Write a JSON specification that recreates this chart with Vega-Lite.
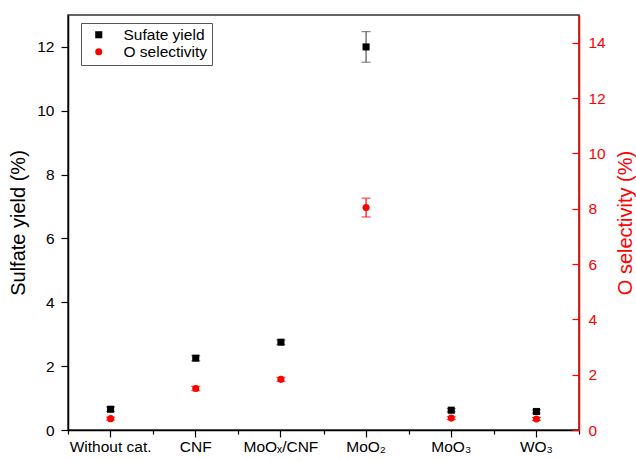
{
  "$schema": "https://vega.github.io/schema/vega-lite/v6.json",
  "width": 511,
  "height": 415,
  "autosize": {"type": "none"},
  "padding": {"left": 68, "top": 15, "right": 57, "bottom": 31},
  "background": "white",
  "config": {
    "font": "Liberation Sans",
    "view": {"stroke": "#333333", "strokeWidth": 1.5},
    "axis": {"grid": false, "domainWidth": 1.5, "tickWidth": 1.2, "labelFont": "Liberation Sans", "titleFont": "Liberation Sans", "titleFontWeight": "normal", "labelFontSize": 15.5, "titleFontSize": 20}
  },
  "data": {
    "values": [
      {"catalyst": "Without cat.", "sulfate": 0.65, "sulfate_err": 0.07, "osel": 0.41, "osel_err": 0.05},
      {"catalyst": "CNF", "sulfate": 2.25, "sulfate_err": 0.08, "osel": 1.5, "osel_err": 0.08},
      {"catalyst": "MoOₓ/CNF", "sulfate": 2.75, "sulfate_err": 0.07, "osel": 1.83, "osel_err": 0.07},
      {"catalyst": "MoO₂", "sulfate": 12.0, "sulfate_err": 0.48, "osel": 8.04, "osel_err": 0.34},
      {"catalyst": "MoO₃", "sulfate": 0.62, "sulfate_err": 0.05, "osel": 0.43, "osel_err": 0.05},
      {"catalyst": "WO₃", "sulfate": 0.58, "sulfate_err": 0.05, "osel": 0.4, "osel_err": 0.05}
    ]
  },
  "layer": [
    {
      "encoding": {
        "x": {
          "field": "catalyst", "type": "nominal", "sort": null,
          "scale": {"type": "band", "paddingInner": 0, "paddingOuter": 0},
          "axis": {"title": null, "labelAngle": 0, "tickSize": 7, "labelPadding": 2, "labelFontSize": 15.5, "domainColor": "#000000", "tickColor": "#000000", "labelColor": "#000000", "orient": "bottom"}
        }
      },
      "layer": [
        {
          "mark": {"type": "errorbar", "ticks": {"size": 9}, "color": "#555555", "thickness": 1.2},
          "encoding": {
            "y": {"field": "sulfate", "type": "quantitative", "title": "Sulfate yield (%)", "scale": {"domain": [0, 13], "nice": false, "zero": false}},
            "yError": {"field": "sulfate_err"}
          }
        },
        {
          "mark": {"type": "point", "filled": true, "opacity": 1, "size": 50},
          "encoding": {
            "y": {
              "field": "sulfate", "type": "quantitative", "title": "Sulfate yield (%)",
              "scale": {"domain": [0, 13], "nice": false, "zero": false},
              "axis": {
                "title": "Sulfate yield (%)", "orient": "left",
                "values": [0,1,2,3,4,5,6,7,8,9,10,11,12,13],
                "labelExpr": "datum.value % 2 === 0 ? datum.label : ''",
                "tickSize": {"condition": {"test": "datum.value % 2 === 0", "value": 7}, "value": 4},
                "labelPadding": 7, "titlePadding": 8, "labelFontSize": 15.5,
                "domainColor": "#000000", "tickColor": "#000000", "labelColor": "#000000", "titleColor": "#000000"
              }
            },
            "color": {
              "datum": "Sufate yield",
              "scale": {"domain": ["Sufate yield", "O selectivity"], "range": ["#000000", "#ff0000"]},
              "legend": {"title": null, "orient": "none", "legendX": 13, "legendY": 8, "strokeColor": "#555555", "padding": 4, "symbolOffset": 6, "labelOffset": 17, "labelFontSize": 15.5, "labelFont": "Liberation Sans", "rowPadding": 0, "symbolSize": 50}
            },
            "shape": {
              "datum": "Sufate yield",
              "scale": {"domain": ["Sufate yield", "O selectivity"], "range": ["square", "circle"]}
            }
          }
        }
      ]
    },
    {
      "encoding": {
        "x": {
          "field": "catalyst", "type": "nominal", "sort": null,
          "scale": {"type": "band", "paddingInner": 0, "paddingOuter": 0},
          "axis": {"title": null, "labels": false, "domain": false, "tickBand": "extent", "tickSize": 4, "tickColor": "#000000", "orient": "bottom"}
        }
      },
      "layer": [
        {
          "mark": {"type": "errorbar", "ticks": {"size": 9}, "color": "#ff0000", "thickness": 1.2},
          "encoding": {
            "y": {"field": "osel", "type": "quantitative", "title": "O selectivity (%)", "scale": {"domain": [0, 15], "nice": false, "zero": false}},
            "yError": {"field": "osel_err"}
          }
        },
        {
          "mark": {"type": "point", "filled": true, "opacity": 1, "size": 50},
          "encoding": {
            "y": {
              "field": "osel", "type": "quantitative", "title": "O selectivity (%)",
              "scale": {"domain": [0, 15], "nice": false, "zero": false},
              "axis": {
                "title": "O selectivity (%)", "orient": "right", "titleAngle": 270,
                "values": [0,1,2,3,4,5,6,7,8,9,10,11,12,13,14,15],
                "labelExpr": "datum.value % 2 === 0 && datum.value < 15 ? datum.label : ''",
                "tickSize": {"condition": {"test": "datum.value % 2 === 0", "value": -7}, "value": -4},
                "labelPadding": 16, "titlePadding": 30, "labelFontSize": 15.5,
                "domainColor": "#ff0000", "tickColor": "#ff0000", "labelColor": "#ff0000", "titleColor": "#ff0000"
              }
            },
            "color": {"datum": "O selectivity"},
            "shape": {"datum": "O selectivity"}
          }
        }
      ]
    }
  ],
  "resolve": {"scale": {"y": "independent"}, "axis": {"x": "independent"}}
}
